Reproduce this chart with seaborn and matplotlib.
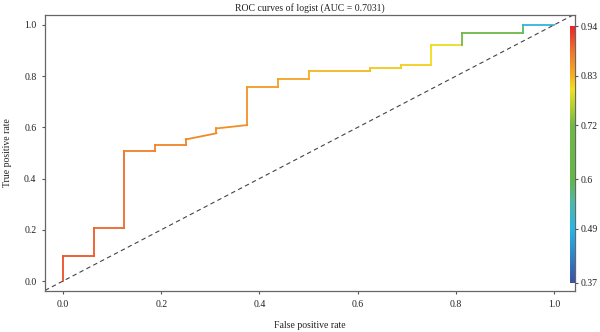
import numpy as np
import pandas as pd
import matplotlib
matplotlib.use("Agg")
import matplotlib.pyplot as plt
import seaborn as sns
from matplotlib.colors import LinearSegmentedColormap, Normalize
from matplotlib.cm import ScalarMappable

# ROC curve vertices (false positive rate, true positive rate)
fpr = [0.0, 0.0, 0.0625, 0.0625, 0.125, 0.125, 0.1875, 0.1875, 0.25, 0.25,
       0.3125, 0.3125, 0.375, 0.375, 0.4375, 0.4375, 0.5, 0.5, 0.625, 0.625,
       0.6875, 0.6875, 0.75, 0.75, 0.8125, 0.8125, 0.9375, 0.9375, 1.0]
tpr = [0.0, 0.098, 0.098, 0.208, 0.208, 0.509, 0.509, 0.531, 0.531, 0.553,
       0.577, 0.596, 0.609, 0.756, 0.756, 0.789, 0.789, 0.821, 0.821, 0.832,
       0.832, 0.844, 0.844, 0.922, 0.922, 0.967, 0.967, 1.0, 1.0]
# cutoff (threshold) associated with each segment of the curve
seg_cutoff = [0.91, 0.905, 0.90, 0.895, 0.89, 0.875, 0.872, 0.87, 0.868, 0.866,
              0.864, 0.862, 0.858, 0.85, 0.845, 0.84, 0.83, 0.825, 0.82, 0.815,
              0.81, 0.81, 0.80, 0.795, 0.72, 0.68, 0.58, 0.50]
cbar_ticks = [0.37, 0.49, 0.6, 0.72, 0.83, 0.94]
cbar_labels = ["0.37", "0.49", "0.6", "0.72", "0.83", "0.94"]
x_ticks = [0.0, 0.2, 0.4, 0.6, 0.8, 1.0]
y_ticks = [0.0, 0.2, 0.4, 0.6, 0.8, 1.0]
title = "ROC curves of logist (AUC = 0.7031)"

sns.set_style("ticks")
plt.rcParams["font.family"] = ["Liberation Serif", "DejaVu Serif"]
plt.rcParams["font.size"] = 7

stops = [(0.0, "#3a50a2"), (0.105, "#2f84c8"), (0.21, "#29b5e8"), (0.316, "#4fb8a8"),
         (0.40, "#62b64a"), (0.614, "#72b844"), (0.684, "#b0d030"), (0.754, "#f0e01e"),
         (0.807, "#f5b020"), (0.895, "#f07a2a"), (1.0, "#e8262a")]
cmap = LinearSegmentedColormap.from_list("roc", stops)
vmin, vmax = 0.37, 0.94
norm = Normalize(vmin=vmin, vmax=vmax)

fig = plt.figure(figsize=(6.0, 3.32), dpi=100)
ax = fig.add_axes([45 / 600, 1 - 291 / 332, 530 / 600, 276 / 332])

rows = []
for i in range(len(fpr) - 1):
    rows.append({"seg": i, "x": fpr[i], "y": tpr[i]})
    rows.append({"seg": i, "x": fpr[i + 1], "y": tpr[i + 1]})
df = pd.DataFrame(rows)
palette = {i: cmap(norm(c)) for i, c in enumerate(seg_cutoff)}
sns.lineplot(data=df, x="x", y="y", hue="seg", palette=palette, estimator=None,
             sort=False, legend=False, linewidth=1.3, ax=ax,
             solid_capstyle="projecting")

ax.axline((0, 0), (1, 1), color="#444444", linestyle=(0, (4, 3)), linewidth=0.8)

ax.set_xlim(-0.0367, 1.0428)
ax.set_ylim(-0.039, 1.039)
ax.set_xticks(x_ticks)
ax.set_yticks(y_ticks)
ax.set_xticklabels([f"{v:.1f}" for v in x_ticks])
ax.set_yticklabels([f"{v:.1f}" for v in y_ticks])
ax.tick_params(axis="both", length=2.2, width=0.8, color="#555555", labelsize=7,
               labelcolor="#222222")
ax.tick_params(axis="x", pad=4)
ax.tick_params(axis="y", pad=4)
for s in ax.spines.values():
    s.set_color("#666666")
    s.set_linewidth(0.9)
    s.set_visible(True)
ax.set_xlabel("False positive rate", fontsize=7, labelpad=9, color="#222222")
ax.set_ylabel("True positive rate", fontsize=7, labelpad=9, color="#222222")
ax.set_title(title, fontsize=7, pad=3, color="#222222")

# colour bar drawn inside the plot region at the right edge
cax = fig.add_axes([570 / 600, 1 - 283 / 332, 5 / 600, 257 / 332])
sm = ScalarMappable(norm=norm, cmap=cmap)
cb = fig.colorbar(sm, cax=cax)
cb.outline.set_visible(False)
cb.set_ticks(cbar_ticks)
cb.set_ticklabels(cbar_labels)
cax.yaxis.set_ticks_position("right")
cax.tick_params(length=2.2, width=0.8, color="#555555", labelsize=7,
                labelcolor="#222222", pad=2)

fig.savefig("out.png", dpi=100)
